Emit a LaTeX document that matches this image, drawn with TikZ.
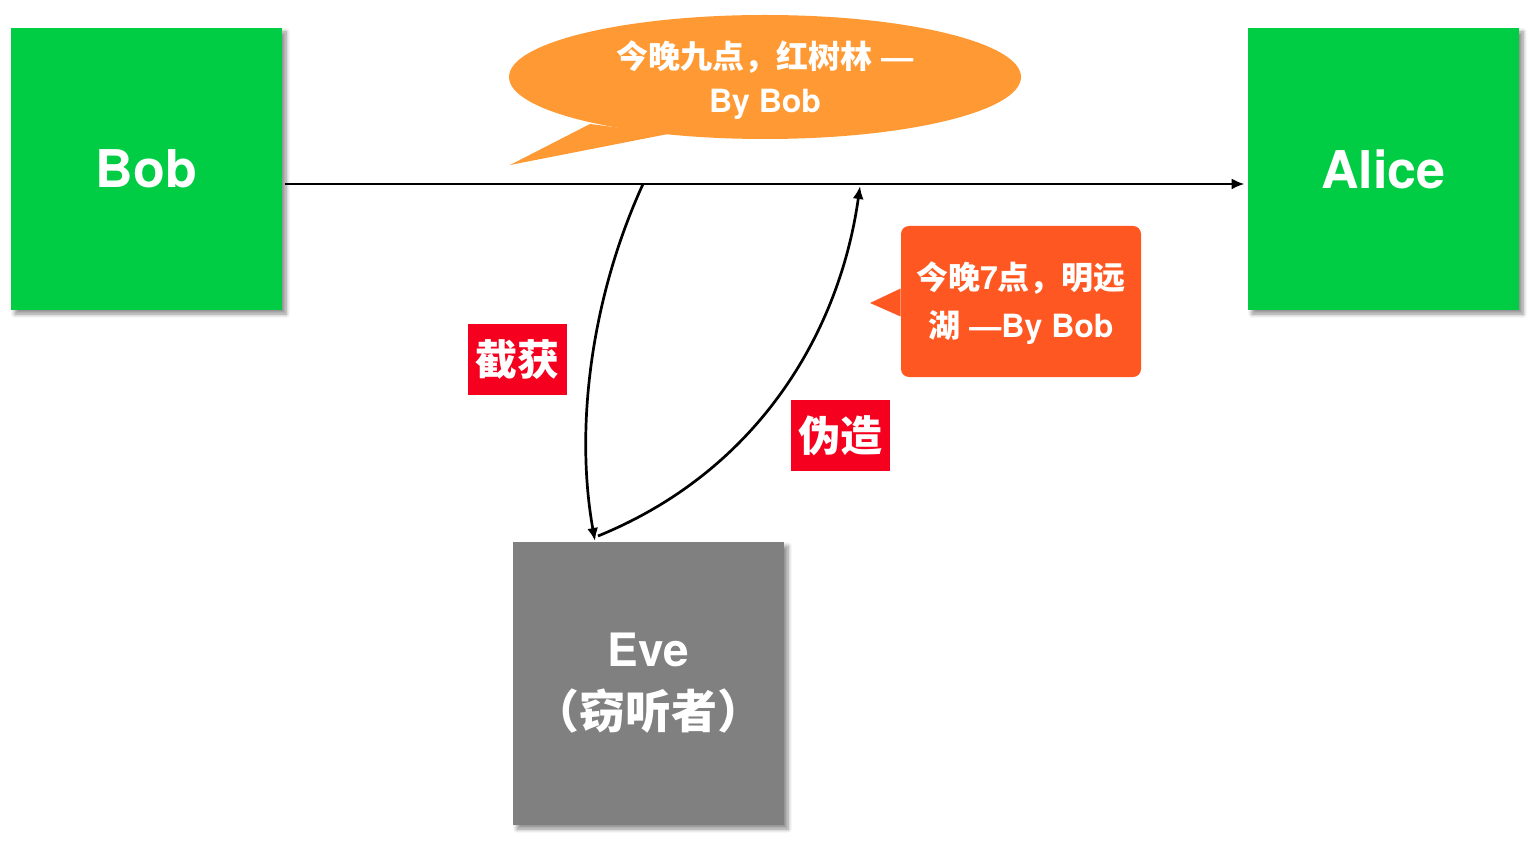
\documentclass[tikz,border=0pt]{standalone}
\usepackage{fontspec}
\setmainfont{TeX Gyre Heros}
\newfontfamily\cjk{Noto Sans CJK SC}
\usetikzlibrary{arrows.meta,shapes.geometric,shadows.blur}
\definecolor{partygreen}{RGB}{0,204,68}
\definecolor{evegray}{RGB}{128,128,128}
\definecolor{bubbleorange}{RGB}{255,153,51}
\definecolor{fakeorange}{RGB}{255,87,34}
\definecolor{tagred}{RGB}{245,0,30}
\tikzset{
  party/.style={fill=partygreen, text=white, font=\fontsize{26}{30}\selectfont\bfseries,
    minimum width=135.5pt, minimum height=141pt, inner sep=0pt,
    blur shadow={shadow xshift=2pt, shadow yshift=-2pt, shadow blur steps=6, shadow opacity=45}},
  spy/.style={party, fill=evegray, font=\fontsize{23}{31}\selectfont\bfseries, align=center,
    minimum height=141.5pt},
  tag/.style={fill=tagred, text=white, font=\cjk\fontsize{21}{24}\selectfont\bfseries,
    minimum width=49.5pt, minimum height=35.5pt, inner sep=0pt},
  wire/.style={line width=1.35pt, -{Latex[length=6.5pt,width=5.5pt]}}
}
\begin{document}
\begin{tikzpicture}[x=0.5pt,y=-0.5pt]
\useasboundingbox (0,0) rectangle (1534,855);

% the two parties and the eavesdropper
\node[party] (bob) at (146.5,169) {Bob};
\node[party] (alice) at (1383.5,169) {Alice};
\node[spy] (eve) at (648.5,683.5) {Eve\\{\cjk （窃听者）}};

% original message bubble
\node[ellipse, fill=bubbleorange, minimum width=256pt, minimum height=62pt, inner sep=0pt] (msg) at (765,77) {};
\node[text=white, align=center, font=\fontsize{16}{22}\selectfont\bfseries] (msgtext)
  at (765,80) {{\cjk 今晚九点，红树林} —\\By Bob};
\coordinate (msgtip) at (510,165);
\fill[bubbleorange] (590,124) -- (msgtip) -- (668,134) -- cycle;

% forged message callout
\node[fill=fakeorange, rounded corners=4pt, minimum width=120pt, minimum height=75.5pt,
  inner sep=0pt] (fake) at (1021,301.5) {};
\node[text=white, align=center, font=\fontsize{16}{24}\selectfont\bfseries]
  (faketext) at (1021,303) {{\cjk 今晚}7{\cjk 点，明远}\\{\cjk 湖} —By Bob};
\coordinate (faketip) at (870,303);
\fill[fakeorange] ([yshift=6.5pt]fake.west) -- (faketip) -- ([yshift=-7.5pt]fake.west) -- cycle;

% action tags
\node[tag] (intercept) at (517.5,359.5) {截获};
\node[tag] (forge) at (840.5,435.5) {伪造};

% channel and the two detours through Eve
\coordinate (tap) at (643,184);
\coordinate (inject) at (860,186);
\coordinate (evein) at (595,541);
\coordinate (eveout) at (598,536);
\draw[wire] ([xshift=1.5pt,yshift=-7.5pt]bob.east) -- ([xshift=-1.5pt,yshift=-7.5pt]alice.west);
\draw[wire] (tap) .. controls (590,300) and (575,430) .. (evein);
\draw[wire] (eveout) .. controls (760,470) and (840,330) .. (inject);
\end{tikzpicture}
\end{document}
